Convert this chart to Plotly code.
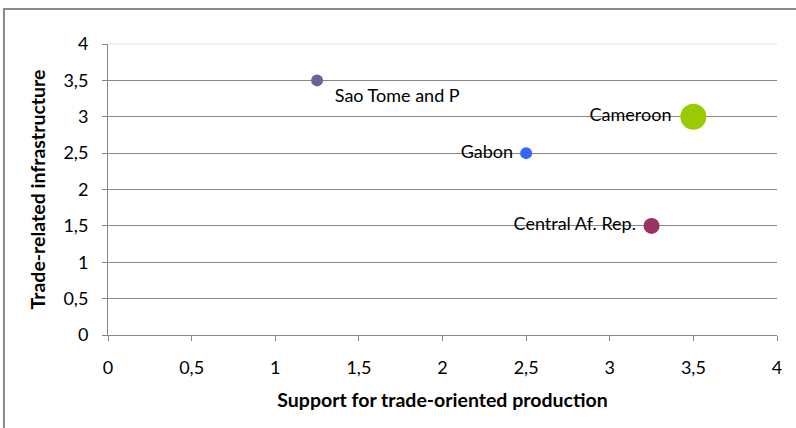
import plotly.graph_objects as go

countries = ["Sao Tome and P", "Gabon", "Cameroon", "Central Af. Rep."]
support = [1.25, 2.5, 3.5, 3.25]
infrastructure = [3.5, 2.5, 3.0, 1.5]
bubble_px = [12, 12, 26, 16]
colors = ["#666699", "#3366ff", "#99cc00", "#993366"]
label_pos = ["bottom right", "middle left", "middle left", "middle left"]

x_ticks = [0, 0.5, 1, 1.5, 2, 2.5, 3, 3.5, 4]
y_ticks = [0, 0.5, 1, 1.5, 2, 2.5, 3, 3.5, 4]

FONT = "Lato, Carlito, Calibri, sans-serif"

fig = go.Figure()
for name, x, y, s, c, p in zip(countries, support, infrastructure, bubble_px, colors, label_pos):
    fig.add_trace(go.Scatter(
        x=[x], y=[y], mode="markers+text", text=[("  " + name) if p == "bottom right" else (name + " ")],
        textposition=p, marker=dict(size=s, color=c, line=dict(width=0)),
        textfont=dict(size=18, color="#000000", family=FONT), showlegend=False, cliponaxis=False))

fig.update_layout(
    width=796, height=428, separators=", ",
    margin=dict(l=108, r=19, t=44, b=93),
    paper_bgcolor="white", plot_bgcolor="white",
    font=dict(family=FONT, size=18, color="#000000"),
    xaxis=dict(range=[0, 4], tickvals=x_ticks, ticktext=[str(v).replace(".", ",") for v in x_ticks],
               showgrid=False, zeroline=False, showline=True, linecolor="#868686", linewidth=1,
               ticks="outside", ticklen=5, tickcolor="#868686", ticklabelstandoff=11,
               title=dict(text="<b>Support for trade-oriented production</b>", standoff=16,
                          font=dict(size=19.5, family=FONT))),
    yaxis=dict(range=[0, 4], tickvals=y_ticks, ticktext=[str(v).replace(".", ",") for v in y_ticks],
               showgrid=True, gridcolor="#868686", gridwidth=1, zeroline=False,
               showline=True, linecolor="#868686", linewidth=1,
               ticks="outside", ticklen=5, tickcolor="#868686", ticklabelstandoff=10,
               title=dict(text="<b>Trade-related infrastructure</b>", standoff=12,
                          font=dict(size=19.5, family=FONT))),
    shapes=[
        dict(type="rect", xref="paper", yref="paper", x0=-0.1555, x1=1.1, y0=-0.4, y1=1.1203,
             line=dict(color="#8a8a8a", width=2), fillcolor="rgba(0,0,0,0)"),
        dict(type="line", xref="paper", yref="paper", x0=0, x1=1, y0=1, y1=1,
             line=dict(color="#ececec", width=1.5)),
    ],
)

fig.write_html("out.html", config={"displayModeBar": False},
               post_script="document.body.style.margin='0';document.body.style.overflow='hidden';")
